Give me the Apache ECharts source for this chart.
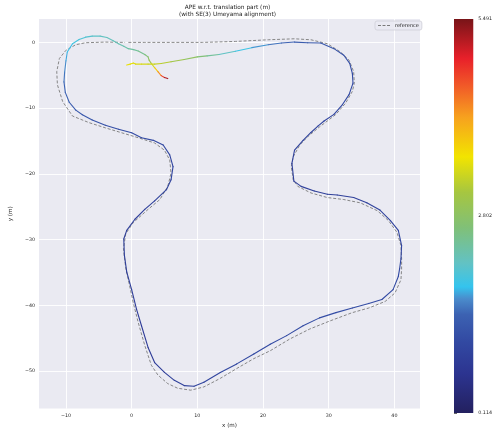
<!DOCTYPE html>
<html><head><meta charset="utf-8">
<script src="https://cdn.jsdelivr.net/npm/echarts@6/dist/echarts.min.js"></script>
<style>html,body{margin:0;padding:0;background:#fff}#c{width:495px;height:434px}</style>
</head><body><div id="c"></div>
<script>
// Estimated trajectory (m) and its APE (m)
const estX = [-0.75,-0.2,0.26,0.6,1.5,2.5,3.5,4.5,6.0,8.0,10.0,11.5,13.3,15.8,18.3,20.8,22.8,24.8,26.8,28.8,30.8,32.3,33.2,33.6,33.7,33.1,32.1,30.8,29.3,28.4,27.3,26.1,24.8,24.4,24.7,25.8,27.8,29.8,31.3,33.8,35.8,37.8,39.4,40.6,41.1,41.0,40.8,40.6,39.8,38.1,36.1,33.6,31.1,28.6,26.1,23.6,21.1,18.6,16.0,13.5,11.0,9.5,8.0,6.5,5.0,3.5,2.5,1.5,0.75,0.0,-0.75,-1.1,-1.2,-0.75,0.5,2.0,3.5,5.3,6.0,6.3,5.8,4.8,3.3,1.5,0.0,-2.0,-4.0,-6.0,-7.5,-8.5,-9.5,-10.1,-10.3,-10.2,-10.0,-9.8,-9.0,-8.0,-7.0,-6.0,-4.8,-3.76,-2.8,-2.0,-1.2,-0.5,0.3,1.0,2.0,2.5,2.66,3.0,3.5,4.0,4.5,5.0,5.5];
const estY = [-3.45,-3.3,-3.15,-3.3,-3.3,-3.3,-3.3,-3.2,-2.95,-2.6,-2.2,-2.05,-1.85,-1.35,-0.8,-0.35,-0.1,0.05,-0.05,-0.1,-0.95,-1.95,-3.2,-4.7,-6.2,-7.95,-9.45,-10.95,-11.95,-12.7,-13.7,-14.9,-16.4,-18.4,-21.1,-21.9,-22.6,-23.1,-23.2,-23.6,-24.4,-25.5,-27.1,-28.6,-30.9,-32.9,-34.4,-35.6,-37.6,-39.1,-39.7,-40.4,-41.1,-41.9,-43.1,-44.6,-45.9,-47.4,-48.9,-50.2,-51.7,-52.3,-52.2,-51.4,-50.2,-48.7,-46.4,-43.1,-40.6,-37.6,-34.9,-32.4,-29.9,-28.6,-26.9,-25.4,-24.1,-22.4,-20.9,-18.9,-17.1,-15.6,-14.9,-14.5,-13.75,-13.2,-12.6,-11.8,-11.0,-10.3,-9.1,-7.6,-6.0,-4.5,-2.8,-1.45,-0.2,0.45,0.8,0.95,0.95,0.75,0.25,-0.2,-0.6,-0.95,-1.1,-1.3,-1.85,-2.2,-2.7,-3.2,-3.85,-4.45,-5.05,-5.35,-5.5];
const estErr = [3.55,3.55,3.5,3.5,3.45,3.4,3.35,3.3,3.15,2.95,2.75,2.55,2.3,2.0,1.8,1.6,1.5,1.4,1.35,1.3,1.25,1.2,1.15,1.1,1.1,1.05,1.05,1.0,1.0,1.0,0.95,0.95,0.95,0.9,0.9,0.9,0.9,0.9,0.9,0.9,0.95,0.95,0.95,1.0,1.0,1.0,1.05,1.05,1.1,1.1,1.1,1.15,1.15,1.15,1.1,1.1,1.1,1.05,1.05,1.0,1.0,0.95,0.95,0.9,0.85,0.8,0.8,0.8,0.8,0.85,0.85,0.9,0.9,0.9,0.9,0.9,0.95,0.95,1.0,1.0,1.0,1.05,1.05,1.1,1.1,1.15,1.2,1.25,1.3,1.35,1.4,1.45,1.5,1.6,1.7,1.8,1.9,2.0,2.05,2.1,2.15,2.2,2.2,2.25,2.3,2.35,2.4,2.45,2.55,2.7,2.9,3.2,3.6,4.0,4.5,5.0,5.491];
// Reference trajectory (m)
const refX = [-0.5,2,6,10.8,15.8,20.8,24.8,27.3,29.8,31.8,33.1,33.8,33.9,33.6,32.6,31.1,29.8,28.6,26.8,25.6,24.6,24.3,24.6,25.3,27.3,29.8,32.3,34.8,37.4,39.1,40.4,41.0,41.1,41.1,41.0,40.1,38.6,36.1,33.6,30.1,27.1,24.1,21.1,18.6,16.0,13.5,11.0,9.0,7.0,5.5,4.0,3.0,2.0,1.0,0.25,-0.4,-0.9,-1.25,-0.9,0.25,2.5,4.3,5.5,6.0,5.8,5.0,3.5,1.0,-1.5,-4.0,-6.5,-9.0,-10.5,-11.3,-11.4,-11.0,-10.0,-8.5,-7.0,-4.0,-1.0];
const refY = [0,0,0,0,0.15,0.4,0.55,0.4,-0.2,-1.45,-2.7,-4.45,-6.2,-7.45,-9.2,-10.95,-11.95,-12.85,-14.35,-15.6,-17.4,-18.9,-20.9,-21.9,-22.9,-23.6,-23.9,-24.4,-25.6,-27.1,-28.9,-30.9,-32.9,-34.5,-36.1,-38.1,-39.4,-40.4,-41.1,-42.4,-43.6,-45.1,-46.9,-48.1,-49.6,-51.1,-52.4,-52.9,-52.6,-51.9,-50.6,-49.1,-46.1,-42.6,-39.6,-36.6,-34.3,-31.4,-29.1,-27.4,-25.4,-23.9,-21.9,-19.9,-17.9,-16.4,-15.3,-14.5,-13.75,-13.0,-12.2,-11.2,-9.0,-6.45,-4.45,-2.45,-1.2,-0.35,-0.05,0.05,0];
const xTicks = [-10,0,10,20,30,40];
const yTicks = [-50,-40,-30,-20,-10,0];
const cbTicks = [0.114, 2.802, 5.491];
const errMin = 0.114, errMax = 5.491;

// colormap stops (style)
const cmapStops = [[0,'#23205f'],[0.10,'#2c3490'],[0.18,'#3249a2'],[0.25,'#3c62b2'],[0.29,'#4a8ccc'],[0.32,'#34c4ee'],[0.38,'#62c2c4'],[0.47,'#80c078'],[0.56,'#a6c640'],[0.65,'#f2e400'],[0.75,'#f7a21e'],[0.83,'#f15a28'],[0.90,'#e8202a'],[1.0,'#781418']];
function hex(c){return [parseInt(c.substr(1,2),16),parseInt(c.substr(3,2),16),parseInt(c.substr(5,2),16)];}
function sample(f){
  for(let i=0;i<cmapStops.length-1;i++){
    const a=cmapStops[i],b=cmapStops[i+1];
    if(f<=b[0]){const t=(f-a[0])/(b[0]-a[0]);const ca=hex(a[1]),cb=hex(b[1]);
      return 'rgb('+ca.map((v,k)=>Math.round(v+(cb[k]-v)*t)).join(',')+')';}
  }
  return cmapStops[cmapStops.length-1][1];
}
const cmap=[];for(let i=0;i<=60;i++)cmap.push(sample(i/60));

const segs=[];
for(let i=0;i<estX.length-1;i++){
  segs.push([estX[i],estY[i],estX[i+1],estY[i+1],(estErr[i]+estErr[i+1])/2]);
}
const refData = refX.map((x,i)=>[x,refY[i]]);

const fmt = v => v<0 ? '\u2212'+(-v) : String(v);
const FONT = 'DejaVu Sans';
const chart = echarts.init(document.getElementById('c'), null, {renderer:'canvas'});
chart.setOption({
  animation:false,
  textStyle:{fontFamily:FONT},
  graphic:[{type:'text', x:227.5, y:4.5, style:{text:'APE w.r.t. translation part (m)\n(with SE(3) Umeyama alignment)', textAlign:'center', fontSize:5.8, lineHeight:6.4, fill:'#262626', fontFamily:FONT}}],
  legend:{data:[{name:'reference', icon:'path://M0,0h3v1h-3z M4.6,0h3v1h-3z M9.2,0h3v1h-3z'}], left:375, top:21, orient:'horizontal', padding:[2,3,2,3], itemWidth:12, itemHeight:6, itemGap:4,
    backgroundColor:'rgba(234,234,242,0.8)', borderColor:'#cfcfd8', borderWidth:0.8, borderRadius:2,
    textStyle:{fontSize:5,color:'#262626',fontFamily:FONT}},
  grid:[{left:35, top:19, width:385, height:394, show:true, backgroundColor:'#EAEAF2', borderWidth:0},
        {left:454, top:19, width:20, height:394, show:false}],
  xAxis:[{type:'value', gridIndex:0, min:-14.1, max:43.9, name:'x (m)', nameLocation:'middle', nameGap:11.5,
    nameTextStyle:{fontSize:5.6,color:'#262626',fontFamily:FONT},
    axisLine:{show:false}, axisTick:{show:false, customValues:xTicks},
    axisLabel:{customValues:xTicks, formatter:fmt, fontSize:4.8, color:'#262626', margin:4.5, fontFamily:FONT},
    splitLine:{show:true, lineStyle:{color:'#ffffff', width:0.9}}},
   {type:'value', gridIndex:1, min:0, max:1, show:false, axisLine:{show:false}, axisTick:{show:false}, axisLabel:{show:false}, splitLine:{show:false}}],
  yAxis:[{type:'value', gridIndex:0, min:-55.7, max:3.56, name:'y (m)', nameLocation:'middle', nameGap:17, nameRotate:90,
    nameTextStyle:{fontSize:5.6,color:'#262626',fontFamily:FONT},
    axisLine:{show:false}, axisTick:{show:false, customValues:yTicks},
    axisLabel:{customValues:yTicks, formatter:fmt, fontSize:4.8, color:'#262626', margin:4, fontFamily:FONT},
    splitLine:{show:true, lineStyle:{color:'#ffffff', width:0.9}}},
   {type:'value', gridIndex:1, position:'right', min:errMin, max:errMax,
    axisLine:{show:false}, splitLine:{show:false},
    axisTick:{show:true, inside:false, length:3, customValues:cbTicks, lineStyle:{color:'#262626', width:0.7}},
    axisLabel:{customValues:cbTicks, formatter:v=>v.toFixed(3), fontSize:4.8, color:'#262626', margin:5, fontFamily:FONT}}],
  visualMap:{type:'continuous', show:false, min:errMin, max:errMax, dimension:4, seriesIndex:1, inRange:{color:cmap}},
  series:[
    {name:'reference', type:'line', xAxisIndex:0, yAxisIndex:0, data:refData, symbol:'none', showSymbol:false, silent:true,
     lineStyle:{color:'#7a7a7a', width:0.9, type:[3,1.8]}, itemStyle:{color:'#7a7a7a'}, z:2},
    {name:'APE', type:'custom', xAxisIndex:0, yAxisIndex:0, data:segs, encode:{x:[0,2], y:[1,3]}, silent:true, z:3,
     renderItem:function(params, api){
       const p1=api.coord([api.value(0),api.value(1)]);
       const p2=api.coord([api.value(2),api.value(3)]);
       return {type:'line', shape:{x1:p1[0],y1:p1[1],x2:p2[0],y2:p2[1]},
         style:{stroke:api.visual('color'), lineWidth:1.1, lineCap:'round'}};
     }},
    {name:'colorbar', type:'custom', xAxisIndex:1, yAxisIndex:1, data:[[0,errMin,1,errMax]], encode:{x:[0,2], y:[1,3]}, silent:true,
     renderItem:function(params, api){
       const a=api.coord([api.value(0),api.value(3)]);
       const b=api.coord([api.value(2),api.value(1)]);
       return {type:'rect', shape:{x:a[0],y:a[1],width:b[0]-a[0],height:b[1]-a[1]},
         style:{fill:new echarts.graphic.LinearGradient(0,1,0,0, cmapStops.map(s=>({offset:s[0],color:s[1]})))}};
     }}
  ]
});
</script></body></html>
